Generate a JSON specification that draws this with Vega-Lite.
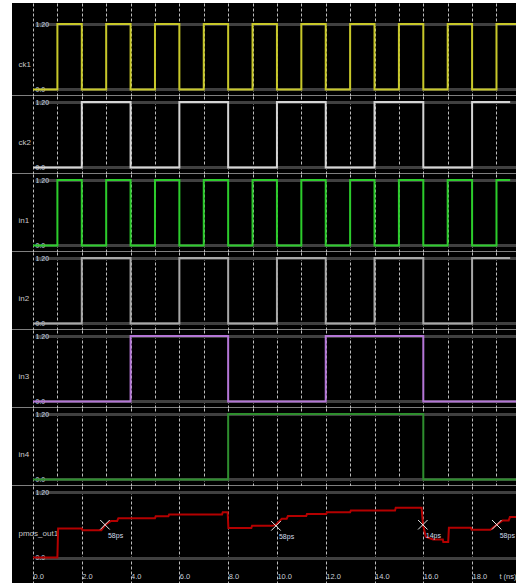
{
  "$schema": "https://vega.github.io/schema/vega-lite/v6.json",
  "background": "white",
  "padding": {"left": 12, "top": 3, "right": 0, "bottom": 0},
  "spacing": 0,
  "resolve": {"scale": {"x": "independent", "y": "independent"}, "axis": {"x": "independent", "y": "independent"}},
  "config": {
    "view": {"fill": "black", "stroke": null},
    "concat": {"spacing": 0},
    "font": "Liberation Sans, Arial, sans-serif",
    "axisX": {
      "grid": true, "gridColor": "#bcbcbc", "gridDash": [3, 2], "gridWidth": 1,
      "domain": false, "ticks": false, "tickSize": 0, "labels": false, "title": null
    },
    "axisY": {
      "grid": true, "gridColor": "#404040", "gridWidth": 3,
      "domain": false, "ticks": false, "tickSize": 0,
      "offset": -23, "labelAlign": "left", "labelBaseline": "middle", "labelPadding": 0,
      "labelExpr": "datum.value == 0 ? '0.0' : '1.20'",
      "labelColor": "#c4d4e4", "labelFontSize": 7,
      "titleAngle": 0, "titleAlign": "left", "titleBaseline": "middle",
      "titleX": -17, "titleY": 46.5, "titleColor": "#c8c8c8", "titleFontSize": 8, "titleFontWeight": "normal"
    }
  },
  "datasets": {
    "ck1": [
      {"t": 0, "v": 0}, {"t": 1, "v": 1.2}, {"t": 2, "v": 0}, {"t": 3, "v": 1.2}, {"t": 4, "v": 0},
      {"t": 5, "v": 1.2}, {"t": 6, "v": 0}, {"t": 7, "v": 1.2}, {"t": 8, "v": 0}, {"t": 9, "v": 1.2},
      {"t": 10, "v": 0}, {"t": 11, "v": 1.2}, {"t": 12, "v": 0}, {"t": 13, "v": 1.2}, {"t": 14, "v": 0},
      {"t": 15, "v": 1.2}, {"t": 16, "v": 0}, {"t": 17, "v": 1.2}, {"t": 18, "v": 0}, {"t": 19, "v": 1.2},
      {"t": 19.8, "v": 1.2}
    ],
    "ck2": [
      {"t": 0, "v": 0}, {"t": 2, "v": 1.2}, {"t": 4, "v": 0}, {"t": 6, "v": 1.2}, {"t": 8, "v": 0},
      {"t": 10, "v": 1.2}, {"t": 12, "v": 0}, {"t": 14, "v": 1.2}, {"t": 16, "v": 0}, {"t": 18, "v": 1.2},
      {"t": 19.56, "v": 1.2}
    ],
    "in1": [
      {"t": 0, "v": 0}, {"t": 1, "v": 1.2}, {"t": 2, "v": 0}, {"t": 3, "v": 1.2}, {"t": 4, "v": 0},
      {"t": 5, "v": 1.2}, {"t": 6, "v": 0}, {"t": 7, "v": 1.2}, {"t": 8, "v": 0}, {"t": 9, "v": 1.2},
      {"t": 10, "v": 0}, {"t": 11, "v": 1.2}, {"t": 12, "v": 0}, {"t": 13, "v": 1.2}, {"t": 14, "v": 0},
      {"t": 15, "v": 1.2}, {"t": 16, "v": 0}, {"t": 17, "v": 1.2}, {"t": 18, "v": 0}, {"t": 19, "v": 1.2},
      {"t": 19.56, "v": 1.2}
    ],
    "in2": [
      {"t": 0, "v": 0}, {"t": 2, "v": 1.2}, {"t": 4, "v": 0}, {"t": 6, "v": 1.2}, {"t": 8, "v": 0},
      {"t": 10, "v": 1.2}, {"t": 12, "v": 0}, {"t": 14, "v": 1.2}, {"t": 16, "v": 0}, {"t": 18, "v": 1.2},
      {"t": 19.56, "v": 1.2}
    ],
    "in3": [
      {"t": 0, "v": 0}, {"t": 4, "v": 1.2}, {"t": 8, "v": 0}, {"t": 12, "v": 1.2}, {"t": 16, "v": 0},
      {"t": 19.8, "v": 0}
    ],
    "in4": [
      {"t": 0, "v": 0}, {"t": 8, "v": 1.2}, {"t": 16, "v": 0}, {"t": 19.8, "v": 0}
    ],
    "pmos": [
      {"t": 0, "v": 0}, {"t": 1.0, "v": 0}, {"t": 1.03, "v": 0.53}, {"t": 2.0, "v": 0.53},
      {"t": 2.03, "v": 0.5}, {"t": 2.8, "v": 0.5}, {"t": 2.97, "v": 0.6}, {"t": 3.2, "v": 0.67},
      {"t": 3.45, "v": 0.67}, {"t": 3.5, "v": 0.72}, {"t": 5.0, "v": 0.72}, {"t": 5.03, "v": 0.755},
      {"t": 5.55, "v": 0.755}, {"t": 5.58, "v": 0.79}, {"t": 7.75, "v": 0.79}, {"t": 7.78, "v": 0.83},
      {"t": 7.98, "v": 0.83}, {"t": 8.01, "v": 0.54}, {"t": 8.95, "v": 0.54}, {"t": 8.98, "v": 0.58},
      {"t": 9.8, "v": 0.58}, {"t": 9.96, "v": 0.6}, {"t": 10.2, "v": 0.71}, {"t": 10.4, "v": 0.71},
      {"t": 10.45, "v": 0.76}, {"t": 11.2, "v": 0.76}, {"t": 11.23, "v": 0.795}, {"t": 12.02, "v": 0.795},
      {"t": 12.05, "v": 0.83}, {"t": 13.0, "v": 0.83}, {"t": 13.03, "v": 0.86}, {"t": 14.84, "v": 0.86},
      {"t": 14.87, "v": 0.91}, {"t": 15.93, "v": 0.91}, {"t": 15.99, "v": 0.6}, {"t": 16.1, "v": 0.38},
      {"t": 16.4, "v": 0.33}, {"t": 16.8, "v": 0.33}, {"t": 16.82, "v": 0.285}, {"t": 17.02, "v": 0.285},
      {"t": 17.05, "v": 0.545}, {"t": 17.95, "v": 0.545}, {"t": 17.98, "v": 0.51}, {"t": 18.75, "v": 0.51},
      {"t": 19.01, "v": 0.6}, {"t": 19.25, "v": 0.68}, {"t": 19.5, "v": 0.68}, {"t": 19.55, "v": 0.74},
      {"t": 19.8, "v": 0.74}
    ],
    "markers": [
      {"t": 2.95, "v": 0.6, "label": "58ps"},
      {"t": 9.96, "v": 0.58, "label": "58ps"},
      {"t": 15.98, "v": 0.6, "label": "14ps"},
      {"t": 19.01, "v": 0.6, "label": "58ps"}
    ]
  },
  "vconcat": [
    {
      "width": 504, "height": 92.5,
      "data": {"name": "ck1"},
      "mark": {"type": "line", "interpolate": "step-after", "color": "#c8c82a", "strokeWidth": 2},
      "encoding": {
        "x": {"field": "t", "type": "quantitative", "scale": {"domain": [-0.861, 19.8], "nice": false, "zero": false},
              "axis": {"values": [0,1,2,3,4,5,6,7,8,9,10,11,12,13,14,15,16,17,18,19]}},
        "y": {"field": "v", "type": "quantitative", "scale": {"domain": [-0.11, 1.585], "nice": false, "zero": false},
              "axis": {"values": [0, 1.2], "title": "ck1", "titleY": 61}}
      }
    },
    {
      "width": 504, "height": 77.5,
      "data": {"name": "ck2"},
      "mark": {"type": "line", "interpolate": "step-after", "color": "#d4d4d4", "strokeWidth": 2},
      "encoding": {
        "x": {"field": "t", "type": "quantitative", "scale": {"domain": [-0.861, 19.8], "nice": false, "zero": false},
              "axis": {"values": [0,1,2,3,4,5,6,7,8,9,10,11,12,13,14,15,16,17,18,19]}},
        "y": {"field": "v", "type": "quantitative", "scale": {"domain": [-0.11, 1.31], "nice": false, "zero": false},
              "axis": {"values": [0, 1.2], "title": "ck2"}}
      }
    },
    {
      "width": 504, "height": 77.5,
      "data": {"name": "in1"},
      "mark": {"type": "line", "interpolate": "step-after", "color": "#2ccc2c", "strokeWidth": 2},
      "encoding": {
        "x": {"field": "t", "type": "quantitative", "scale": {"domain": [-0.861, 19.8], "nice": false, "zero": false},
              "axis": {"values": [0,1,2,3,4,5,6,7,8,9,10,11,12,13,14,15,16,17,18,19]}},
        "y": {"field": "v", "type": "quantitative", "scale": {"domain": [-0.11, 1.31], "nice": false, "zero": false},
              "axis": {"values": [0, 1.2], "title": "in1"}}
      }
    },
    {
      "width": 504, "height": 77.5,
      "data": {"name": "in2"},
      "mark": {"type": "line", "interpolate": "step-after", "color": "#a8a8a8", "strokeWidth": 2},
      "encoding": {
        "x": {"field": "t", "type": "quantitative", "scale": {"domain": [-0.861, 19.8], "nice": false, "zero": false},
              "axis": {"values": [0,1,2,3,4,5,6,7,8,9,10,11,12,13,14,15,16,17,18,19]}},
        "y": {"field": "v", "type": "quantitative", "scale": {"domain": [-0.11, 1.31], "nice": false, "zero": false},
              "axis": {"values": [0, 1.2], "title": "in2"}}
      }
    },
    {
      "width": 504, "height": 77.5,
      "data": {"name": "in3"},
      "mark": {"type": "line", "interpolate": "step-after", "color": "#b476d6", "strokeWidth": 2},
      "encoding": {
        "x": {"field": "t", "type": "quantitative", "scale": {"domain": [-0.861, 19.8], "nice": false, "zero": false},
              "axis": {"values": [0,1,2,3,4,5,6,7,8,9,10,11,12,13,14,15,16,17,18,19]}},
        "y": {"field": "v", "type": "quantitative", "scale": {"domain": [-0.11, 1.31], "nice": false, "zero": false},
              "axis": {"values": [0, 1.2], "title": "in3"}}
      }
    },
    {
      "width": 504, "height": 77.5,
      "data": {"name": "in4"},
      "mark": {"type": "line", "interpolate": "step-after", "color": "#2e8e2e", "strokeWidth": 2},
      "encoding": {
        "x": {"field": "t", "type": "quantitative", "scale": {"domain": [-0.861, 19.8], "nice": false, "zero": false},
              "axis": {"values": [0,1,2,3,4,5,6,7,8,9,10,11,12,13,14,15,16,17,18,19]}},
        "y": {"field": "v", "type": "quantitative", "scale": {"domain": [-0.11, 1.31], "nice": false, "zero": false},
              "axis": {"values": [0, 1.2], "title": "in4"}}
      }
    },
    {
      "width": 504, "height": 100,
      "layer": [
        {
          "data": {"name": "pmos"},
          "mark": {"type": "line", "interpolate": "linear", "color": "#b40000", "strokeWidth": 2},
          "encoding": {
            "x": {"field": "t", "type": "quantitative", "scale": {"domain": [-0.861, 19.8], "nice": false, "zero": false},
                  "axis": {"values": [0,1,2,3,4,5,6,7,8,9,10,11,12,13,14,15,16,17,18,19],
                           "labels": true, "offset": -14, "labelAlign": "left", "labelBaseline": "top", "labelPadding": 0,
                           "labelFlush": false, "labelOverlap": false, "labelBound": false,
                           "labelExpr": "datum.value % 2 == 0 ? format(datum.value, '.1f') : ''",
                           "labelColor": "#c8d0dc", "labelFontSize": 7.5,
                           "title": "t (ns)", "titleX": 504, "titleY": 0, "titleAlign": "right", "titleBaseline": "top",
                           "titleColor": "#c8d0dc", "titleFontSize": 7.5, "titleFontWeight": "normal"}},
            "y": {"field": "v", "type": "quantitative", "scale": {"domain": [-0.522, 1.31], "nice": false, "zero": false},
                  "axis": {"values": [0, 1.2], "title": "pmos_out1", "titleY": 47}}
          }
        },
        {
          "data": {"name": "markers"},
          "mark": {"type": "point", "shape": "M-1,-1L1,1M-1,1L1,-1", "filled": false, "size": 90, "stroke": "#e8e8e8", "strokeWidth": 1, "opacity": 1},
          "encoding": {
            "x": {"field": "t", "type": "quantitative"},
            "y": {"field": "v", "type": "quantitative"}
          }
        },
        {
          "data": {"name": "markers"},
          "mark": {"type": "text", "align": "left", "baseline": "middle", "dx": 3, "dy": 11, "fontSize": 7, "color": "#d0dcec"},
          "encoding": {
            "x": {"field": "t", "type": "quantitative"},
            "y": {"field": "v", "type": "quantitative"},
            "text": {"field": "label"}
          }
        }
      ]
    }
  ]
}
